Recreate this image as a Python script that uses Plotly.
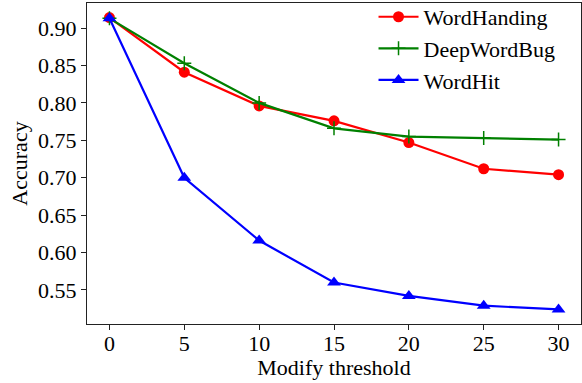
import plotly.graph_objects as go

thresholds = [0, 5, 10, 15, 20, 25, 30]
word_handing = [0.914, 0.841, 0.796, 0.776, 0.747, 0.712, 0.704]
deep_word_bug = [0.913, 0.853, 0.800, 0.766, 0.755, 0.753, 0.751]
word_hit = [0.913, 0.700, 0.616, 0.560, 0.542, 0.529, 0.524]
y_ticks = [0.55, 0.60, 0.65, 0.70, 0.75, 0.80, 0.85, 0.90]
x_ticks = [0, 5, 10, 15, 20, 25, 30]

FONT = "Times New Roman, Liberation Serif, serif"
F = dict(family=FONT, size=22, color="black")

fig = go.Figure()
fig.add_trace(go.Scatter(x=thresholds, y=word_handing, name="WordHanding", mode="lines+markers",
                         line=dict(color="#ff0000", width=2.2),
                         marker=dict(symbol="circle", size=11, color="#ff0000")))
fig.add_trace(go.Scatter(x=thresholds, y=deep_word_bug, name="DeepWordBug", mode="lines+markers",
                         line=dict(color="#008000", width=2.2),
                         marker=dict(symbol="cross-thin", size=10, color="#008000",
                                     line=dict(color="#008000", width=1.5))))
fig.add_trace(go.Scatter(x=thresholds, y=word_hit, name="WordHit", mode="lines+markers",
                         line=dict(color="#0000ff", width=2.2),
                         marker=dict(symbol="triangle-up", size=12, color="#0000ff")))

fig.update_layout(
    width=582, height=383,
    margin=dict(l=87, r=1, t=3, b=59, autoexpand=False),
    plot_bgcolor="white", paper_bgcolor="white",
    font=F,
    showlegend=True,
    legend=dict(x=0.58, y=1.022, xanchor="left", yanchor="top",
                bgcolor="rgba(0,0,0,0)", font=F,
                tracegroupgap=0, itemwidth=40),
    xaxis=dict(title=dict(text="Modify threshold", standoff=5, font=F),
               range=[-1.5, 31.5], tickvals=x_ticks, ticks="outside", ticklen=5,
               ticklabelstandoff=-6,
               tickcolor="#222", showline=True, linecolor="#222", linewidth=1.2,
               mirror=True, showgrid=False, zeroline=False, tickfont=F),
    yaxis=dict(title=dict(text="Accuracy", standoff=4, font=F),
               range=[0.5045, 0.9335], tickvals=y_ticks, tickformat=".2f",
               ticks="outside", ticklen=5, tickcolor="#222",
               showline=True, linecolor="#222", linewidth=1.2, mirror=True,
               showgrid=False, zeroline=False, tickfont=F),
)

fig.write_html("out.html")
